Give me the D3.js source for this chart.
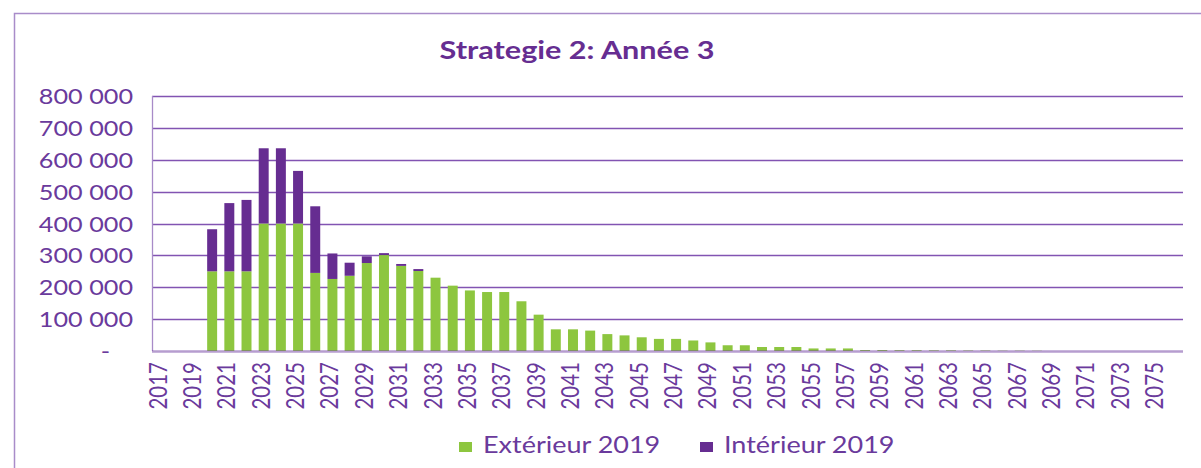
<!DOCTYPE html>
<html>
<head>
<meta charset="utf-8">
<script src="https://cdn.jsdelivr.net/npm/d3@7"></script>
<style>
  html, body { margin: 0; padding: 0; background: #ffffff; }
  svg { display: block; }
  text { font-family: Lato, "Open Sans", sans-serif; fill: #6a3a9c; }
</style>
</head>
<body>
<svg id="chart" width="1201" height="468"></svg>
<script>
const title = "Strategie 2: Année 3";
const years = [2017,2018,2019,2020,2021,2022,2023,2024,2025,2026,2027,2028,2029,2030,2031,2032,2033,2034,2035,2036,
  2037,2038,2039,2040,2041,2042,2043,2044,2045,2046,2047,2048,2049,2050,2051,2052,2053,2054,2055,2056,
  2057,2058,2059,2060,2061,2062,2063,2064,2065,2066,2067,2068,2069,2070,2071,2072,2073,2074,2075,2076];
const exterieur = [0,0,0,250000,250000,250000,400000,400000,400000,245000,226000,236000,276000,301000,267000,251000,230000,205000,190000,185000,
  185000,156000,114000,68000,68000,64000,53000,49000,43000,38000,38000,33000,27000,18000,18000,12500,12500,12500,8000,8000,
  8000,3000,3000,2500,2500,2000,2000,1500,1500,1000,1000,800,0,0,0,0,0,0,0,0];
const interieur = [0,0,0,132000,214000,224000,236000,236000,165000,209000,80000,41000,21000,6000,6000,6000,0,0,0,0,
  0,0,0,0,0,0,0,0,0,0,0,0,0,0,0,0,0,0,0,0,
  0,0,0,0,0,0,0,0,0,0,0,0,0,0,0,0,0,0,0,0];
const yTicks = [0,100000,200000,300000,400000,500000,600000,700000,800000];
const yTickLabels = ["-","100 000","200 000","300 000","400 000","500 000","600 000","700 000","800 000"];
const seriesNames = ["Extérieur 2019","Intérieur 2019"];
const colors = ["#8dc63f","#662d91"];

const SX = 1.2; // horizontal stretch of the reference text
const svg = d3.select("#chart");
const L = 152, R = 1183, T = 96, B = 351;

// outer border
svg.append("path").attr("d", `M14.5,468 V13.5 H1201`).attr("fill","none")
  .attr("stroke","#a98cc9").attr("stroke-width",1.5);

const x = d3.scaleBand().domain(years).range([L, R]).paddingInner(0.42).paddingOuter(0.21);
const y = d3.scaleLinear().domain([0, 800000]).range([B, T]);

// gridlines
svg.append("g").selectAll("line").data(yTicks.filter(d => d > 0)).join("line")
  .attr("x1", L).attr("x2", R).attr("y1", d => Math.round(y(d)) + 0.5).attr("y2", d => Math.round(y(d)) + 0.5)
  .attr("stroke","#8254b2").attr("stroke-width",1.4);

// left axis line
svg.append("line").attr("x1", L + 0.5).attr("x2", L + 0.5).attr("y1", T).attr("y2", B)
  .attr("stroke","#a88bc8").attr("stroke-width",1.3);

// stacked bars
const data = years.map((yr, i) => ({year: yr, ext: exterieur[i], int: interieur[i]}));
const stack = d3.stack().keys(["ext","int"])(data);
svg.append("g").selectAll("g").data(stack).join("g")
  .attr("fill", (d, i) => colors[i])
  .selectAll("rect").data(d => d).join("rect")
  .attr("x", d => x(d.data.year))
  .attr("width", x.bandwidth())
  .attr("y", d => y(d[1]))
  .attr("height", d => Math.max(0, y(d[0]) - y(d[1])));

// baseline (semi-transparent over bars)
svg.append("line").attr("x1", L).attr("x2", R).attr("y1", B + 0.5).attr("y2", B + 0.5)
  .attr("stroke","rgba(110,60,160,0.5)").attr("stroke-width",2.5);

// y axis labels
const yAxis = svg.append("g").attr("transform", `translate(${L},0)`)
  .call(d3.axisLeft(y).tickValues(yTicks).tickSize(0).tickPadding(0)
    .tickFormat((d, i) => yTickLabels[i]));
yAxis.select(".domain").remove();
yAxis.selectAll(".tick text")
  .attr("x", null).attr("dy", null)
  .attr("transform", d => `translate(${d === 0 ? -42 : -19},7.5) scale(${SX},1)`)
  .attr("text-anchor","end")
  .style("font-size","21px").style("fill","#6a3a9c");

// x axis labels (every other year)
const xAxis = svg.append("g").attr("transform", `translate(0,${B})`)
  .call(d3.axisBottom(x).tickValues(years.filter((d, i) => i % 2 === 0)).tickSize(0).tickPadding(0));
xAxis.select(".domain").remove();
xAxis.selectAll(".tick text")
  .attr("y", null).attr("dy", null)
  .attr("transform", `translate(6,11) scale(${SX},1) rotate(-90)`)
  .attr("text-anchor","end")
  .style("font-size","20.5px").style("fill","#6a3a9c");

// title
svg.append("text").attr("transform", `translate(577,59) scale(${SX},1)`)
  .attr("text-anchor","middle").style("font-size","25.5px").style("font-weight","bold")
  .style("fill","#662d91").text(title);

// legend
const legendX = [459, 700];
seriesNames.forEach((name, i) => {
  const g = svg.append("g");
  g.append("rect").attr("x", legendX[i]).attr("y", 442).attr("width", 13).attr("height", 10).attr("fill", colors[i]);
  g.append("text").attr("transform", `translate(${legendX[i] + 24},453) scale(${SX},1)`)
    .style("font-size","22.5px").style("fill","#6a3a9c").text(name);
});
</script>
</body>
</html>
